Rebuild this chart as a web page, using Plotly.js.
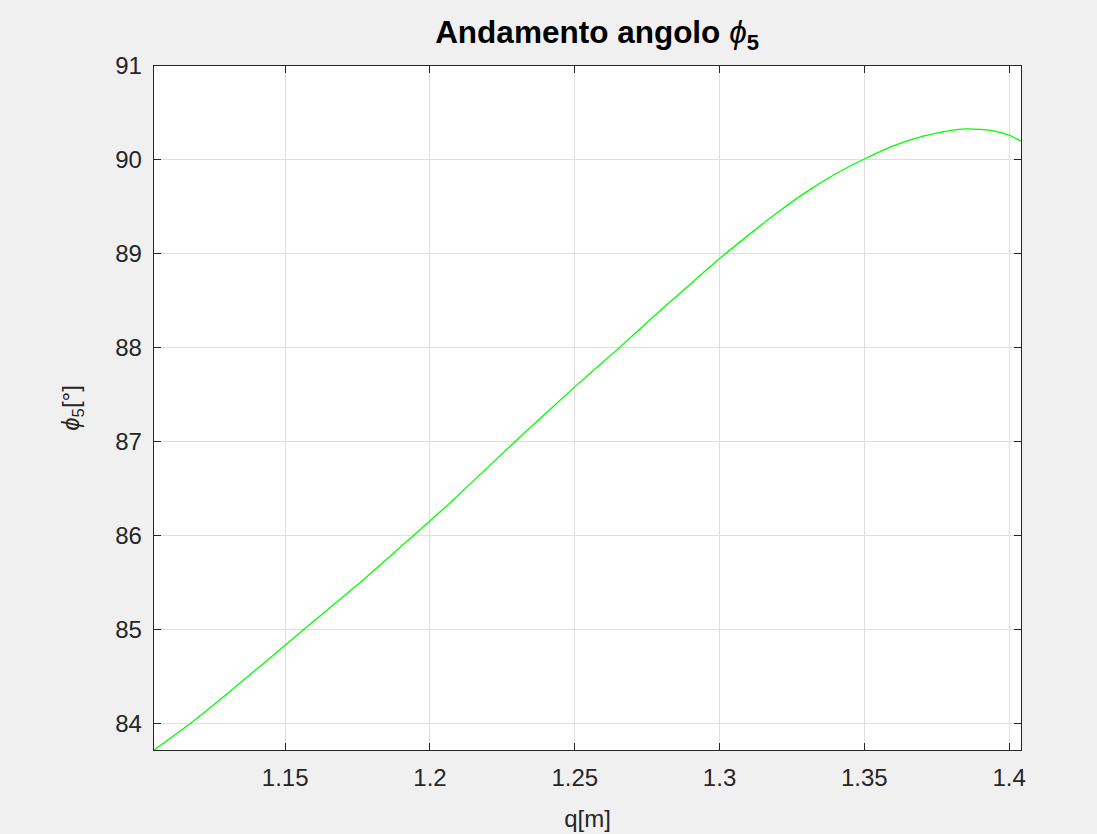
<!DOCTYPE html>
<html>
<head>
<meta charset="utf-8">
<script src="https://cdn.plot.ly/plotly-3.0.1.min.js"></script>
<style>html,body{margin:0;padding:0;background:#f0f0f0;}</style>
</head>
<body>
<div id="chart" style="width:1097px;height:834px;"></div>
<script>
const q = [1.1047, 1.1171, 1.1300, 1.1448, 1.1563, 1.1758, 1.1942, 1.2069, 1.2293, 1.2500, 1.2653, 1.2800, 1.2900, 1.3000, 1.3100, 1.3200, 1.3300, 1.3400, 1.3500, 1.3600, 1.3700, 1.3800, 1.3850, 1.3900, 1.3945, 1.4000, 1.4041];
const phi5 = [83.72, 84.00, 84.32, 84.70, 85.00, 85.50, 86.00, 86.35, 87.00, 87.585, 88.00, 88.41, 88.68, 88.95, 89.20, 89.44, 89.66, 89.85, 90.01, 90.15, 90.25, 90.315, 90.33, 90.325, 90.31, 90.265, 90.20];
const xTicks = [1.15, 1.2, 1.25, 1.3, 1.35, 1.4];
const xTickLabels = ['1.15', '1.2', '1.25', '1.3', '1.35', '1.4'];
const yTicks = [84, 85, 86, 87, 88, 89, 90, 91];

const FONT = 'Liberation Sans, Arial, Helvetica, sans-serif';
const AX = '#262626';

const trace = {
  x: q, y: phi5, type: 'scatter', mode: 'lines',
  line: {color: 'rgb(0,255,0)', width: 1.3, shape: 'spline', smoothing: 0.5},
  hoverinfo: 'skip'
};

const layout = {
  width: 1097, height: 834,
  paper_bgcolor: '#f0f0f0', plot_bgcolor: '#ffffff',
  margin: {l: 154, r: 76, t: 66, b: 84, autoexpand: false},
  showlegend: false,
  title: {
    text: '<b>Andamento angolo </b><i>ϕ</i><sub><b>5</b></sub>',
    font: {family: FONT, size: 31.5, color: '#000000', weight: 'normal'},
    x: 0.511, xanchor: 'center', xref: 'paper',
    y: 1 - 32/834, yanchor: 'middle', yref: 'container'
  },
  xaxis: {
    range: [1.1047, 1.4041],
    tickvals: xTicks, ticktext: xTickLabels,
    ticks: 'inside', ticklen: 7, tickwidth: 1, tickcolor: AX,
    showline: true, linecolor: AX, linewidth: 1.3, mirror: 'ticks',
    showgrid: true, gridcolor: '#dfdfdf', gridwidth: 1,
    zeroline: false,
    tickfont: {family: FONT, size: 24, color: AX},
    ticklabelstandoff: 6,
    title: {text: 'q[m]', font: {family: FONT, size: 24, color: AX}, standoff: 20}
  },
  yaxis: {
    range: [83.72, 91],
    tickvals: yTicks,
    ticks: 'inside', ticklen: 7, tickwidth: 1, tickcolor: AX,
    showline: true, linecolor: AX, linewidth: 1.3, mirror: 'ticks',
    showgrid: true, gridcolor: '#dfdfdf', gridwidth: 1,
    zeroline: false,
    tickfont: {family: FONT, size: 24, color: AX},
    ticklabelstandoff: 6,
    title: {text: '<i>ϕ</i><sub>5</sub>[°]', font: {family: FONT, size: 24, color: AX}, standoff: 28}
  }
};

Plotly.newPlot('chart', [trace], layout, {staticPlot: true, displayModeBar: false});
</script>
</body>
</html>
